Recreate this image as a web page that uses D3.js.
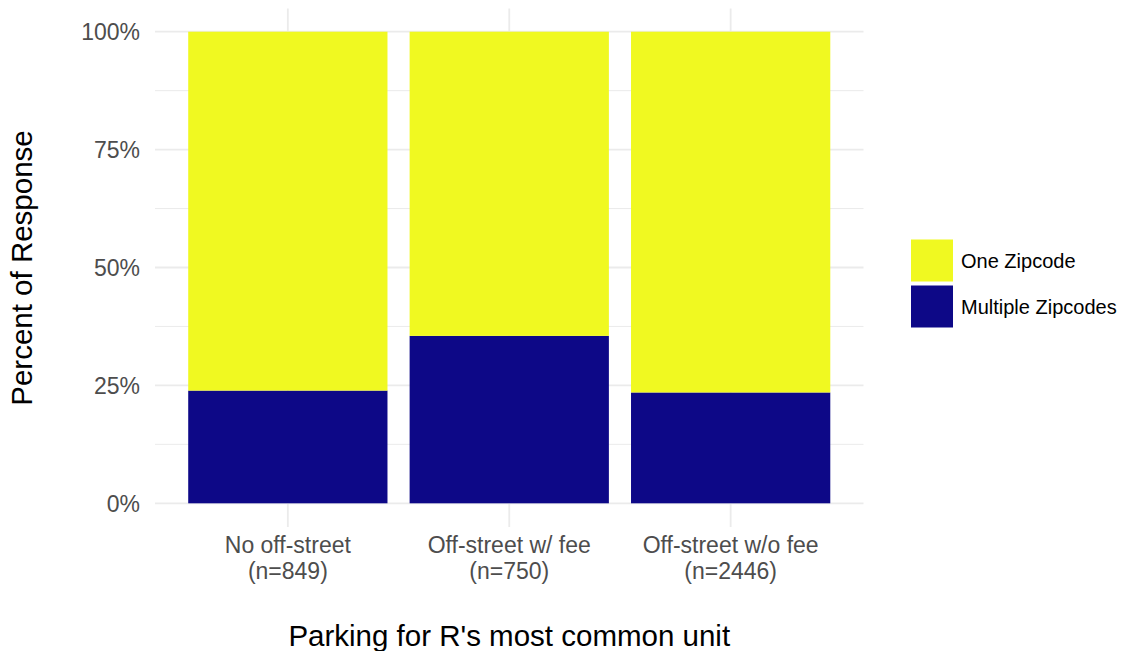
<!DOCTYPE html>
<html>
<head>
<meta charset="utf-8">
<script src="https://cdn.jsdelivr.net/npm/d3@7"></script>
<style>
  body { margin: 0; background: #fff; }
  text { font-family: "Liberation Sans", Arial, sans-serif; }
</style>
</head>
<body>
<svg id="chart" width="1125" height="651"></svg>
<script>
// --- Data ---
const categories = ["No off-street\n(n=849)", "Off-street w/ fee\n(n=750)", "Off-street w/o fee\n(n=2446)"];
const multipleShare = [0.239, 0.355, 0.235];
const oneShare = multipleShare.map(v => 1 - v);
const seriesNames = ["Multiple Zipcodes", "One Zipcode"];
const seriesColors = { "Multiple Zipcodes": "#0D0887", "One Zipcode": "#F0F921" };
const yTicks = [0, 0.25, 0.5, 0.75, 1];
const yMinor = [0.125, 0.375, 0.625, 0.875];

const svg = d3.select('#chart');

// panel
const panel = { left: 155, right: 863.5, top: 8.4, bottom: 527 };

const x = d3.scaleBand()
    .domain(categories)
    .range([panel.left, panel.right])
    .paddingInner(0.1)
    .paddingOuter(0.15);

const y = d3.scaleLinear().domain([0, 1]).range([503.3, 31.7]);

// --- Gridlines ---
const grid = svg.append('g');
yMinor.forEach(t => {
    grid.append('line')
        .attr('x1', panel.left).attr('x2', panel.right)
        .attr('y1', y(t)).attr('y2', y(t))
        .attr('stroke', '#EBEBEB').attr('stroke-width', 1);
});
yTicks.forEach(t => {
    grid.append('line')
        .attr('x1', panel.left).attr('x2', panel.right)
        .attr('y1', y(t)).attr('y2', y(t))
        .attr('stroke', '#EBEBEB').attr('stroke-width', 1.8);
});
categories.forEach(c => {
    const cx = x(c) + x.bandwidth() / 2;
    grid.append('line')
        .attr('x1', cx).attr('x2', cx)
        .attr('y1', panel.top).attr('y2', panel.bottom)
        .attr('stroke', '#EBEBEB').attr('stroke-width', 1.8);
});

// --- Stacked bars ---
const rows = categories.map((c, i) => ({ cat: c, "Multiple Zipcodes": multipleShare[i], "One Zipcode": oneShare[i] }));
const stacked = d3.stack().keys(seriesNames)(rows);

svg.append('g').selectAll('g')
    .data(stacked)
    .join('g')
    .attr('fill', d => seriesColors[d.key])
    .selectAll('rect')
    .data(d => d)
    .join('rect')
    .attr('x', d => x(d.data.cat))
    .attr('width', x.bandwidth())
    .attr('y', d => y(d[1]))
    .attr('height', d => y(d[0]) - y(d[1]));

// --- Y axis labels ---
yTicks.forEach(t => {
    svg.append('text')
        .attr('x', 140).attr('y', y(t))
        .attr('dy', '0.36em')
        .attr('text-anchor', 'end')
        .style('font-size', '23px')
        .style('fill', '#4D4D4D')
        .text(d3.format('.0%')(t));
});

// --- X axis labels ---
categories.forEach(c => {
    const cx = x(c) + x.bandwidth() / 2;
    const lines = c.split('\n');
    lines.forEach((ln, i) => {
        svg.append('text')
            .attr('x', cx).attr('y', 553 + i * 25.5)
            .attr('text-anchor', 'middle')
            .style('font-size', '23px')
            .style('fill', '#4D4D4D')
            .text(ln);
    });
});

// --- Axis titles ---
svg.append('text')
    .attr('x', (panel.left + panel.right) / 2).attr('y', 646)
    .attr('text-anchor', 'middle')
    .style('font-size', '29.5px')
    .style('fill', '#000')
    .text("Parking for R's most common unit");

svg.append('text')
    .attr('transform', 'translate(32,268) rotate(-90)')
    .attr('text-anchor', 'middle')
    .style('font-size', '29.5px')
    .style('fill', '#000')
    .text('Percent of Response');

// --- Legend ---
const legendItems = ["One Zipcode", "Multiple Zipcodes"];
const legend = svg.append('g').attr('transform', 'translate(911,239.5)');
legendItems.forEach((name, i) => {
    const gy = i * 46;
    legend.append('rect')
        .attr('x', 0).attr('y', gy)
        .attr('width', 42).attr('height', 42)
        .attr('fill', seriesColors[name]);
    legend.append('text')
        .attr('x', 50).attr('y', gy + 21)
        .attr('dy', '0.36em')
        .style('font-size', '20px')
        .style('fill', '#000')
        .text(name);
});
</script>
</body>
</html>
